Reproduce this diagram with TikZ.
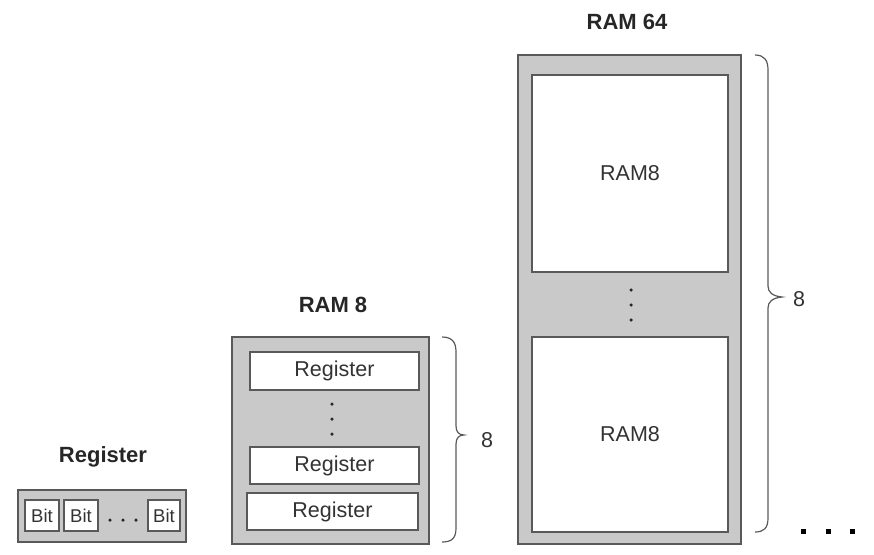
\documentclass[tikz,border=0pt]{standalone}
\usepackage{fontspec}
\setmainfont{Liberation Sans}
\begin{document}
\begin{tikzpicture}[x=1pt,y=-1pt,
  outerbox/.style={draw=black!65,fill=black!21,line width=1.3pt,rectangle,anchor=north west,inner sep=0pt,outer sep=0pt},
  innerbox/.style={draw=black!65,fill=white,line width=1.5pt,rectangle,anchor=north west,inner sep=0pt,outer sep=0pt},
  title/.style={font=\fontsize{22}{26}\selectfont\bfseries,text=black!85},
  lbl/.style={font=\fontsize{21.5}{25}\selectfont,text=black!80},
  bitlbl/.style={font=\fontsize{18.5}{22}\selectfont,text=black!80},
  dotmark/.style={circle,fill=black!85,inner sep=0pt,minimum size=3.5pt},
  bigdot/.style={rectangle,fill=black,inner sep=0pt,minimum size=5pt},
  bracepath/.style={draw=black!65,line width=1.2pt}]
\useasboundingbox (0,0) rectangle (874,554);
% Register
\node[title] (tReg) at (103,457) {Register};
\node[outerbox,minimum width=168pt,minimum height=52pt] (reg) at (18,490) {};
\node[innerbox,minimum width=34pt,minimum height=31pt] (b1) at (25,500) {};
\node[innerbox,minimum width=34pt,minimum height=31pt] (b2) at (64,500) {};
\node[innerbox,minimum width=32pt,minimum height=31pt] (b3) at (148,500) {};
\node[bitlbl] at (b1.center) {Bit};
\node[bitlbl] at (b2.center) {Bit};
\node[bitlbl] at (b3.center) {Bit};
\node[dotmark] (rd1) at (110,520) {};
\node[dotmark] (rd2) at (123,520) {};
\node[dotmark] (rd3) at (136,520) {};
% RAM 8
\node[title] (tR8) at (333,305) {RAM 8};
\node[outerbox,minimum width=197pt,minimum height=207pt] (ram8) at (232,337) {};
\node[innerbox,minimum width=169pt,minimum height=38pt] (r1) at (250,352) {};
\node[innerbox,minimum width=169pt,minimum height=37pt] (r2) at (250,447) {};
\node[innerbox,minimum width=171pt,minimum height=37pt] (r3) at (247,493) {};
\node[lbl] at (r1.center) {Register};
\node[lbl] at (r2.center) {Register};
\node[lbl] at (r3.center) {Register};
\node[dotmark] (d81) at (332,404) {};
\node[dotmark] (d82) at (332,419) {};
\node[dotmark] (d83) at (332,434) {};
\coordinate (br1a) at (442,337);
\coordinate (br1b) at (442,542);
\draw[bracepath] (br1a) .. controls (452,337) and (456,342) .. (456,352) -- (456,426)
  .. controls (456,432) and (459,435) .. (464,435)
  .. controls (459,435) and (456,438) .. (456,444) -- (456,528)
  .. controls (456,538) and (452,542) .. (br1b);
\node[lbl] (n8a) at (487,440) {8};
% RAM 64
\node[title] (tR64) at (627,22) {RAM 64};
\node[outerbox,minimum width=223pt,minimum height=489pt] (ram64) at (518,55) {};
\node[innerbox,minimum width=196pt,minimum height=197pt] (m1) at (532,75) {};
\node[innerbox,minimum width=196pt,minimum height=195pt] (m2) at (532,337) {};
\node[lbl] at (m1.center) {RAM8};
\node[lbl] at (m2.center) {RAM8};
\node[dotmark] (d641) at (631,290) {};
\node[dotmark] (d642) at (631,305) {};
\node[dotmark] (d643) at (631,320) {};
\coordinate (br2a) at (755,55);
\coordinate (br2b) at (755,532);
\draw[bracepath] (br2a) .. controls (764,55) and (768,60) .. (768,70) -- (768,286)
  .. controls (768,292) and (772,296) .. (782,297)
  .. controls (772,298) and (768,302) .. (768,308) -- (768,518)
  .. controls (768,528) and (764,532) .. (br2b);
\node[lbl] (n8b) at (799,299) {8};
\node[bigdot] (e1) at (803,531) {};
\node[bigdot] (e2) at (828,531) {};
\node[bigdot] (e3) at (852,531) {};
\end{tikzpicture}
\end{document}
